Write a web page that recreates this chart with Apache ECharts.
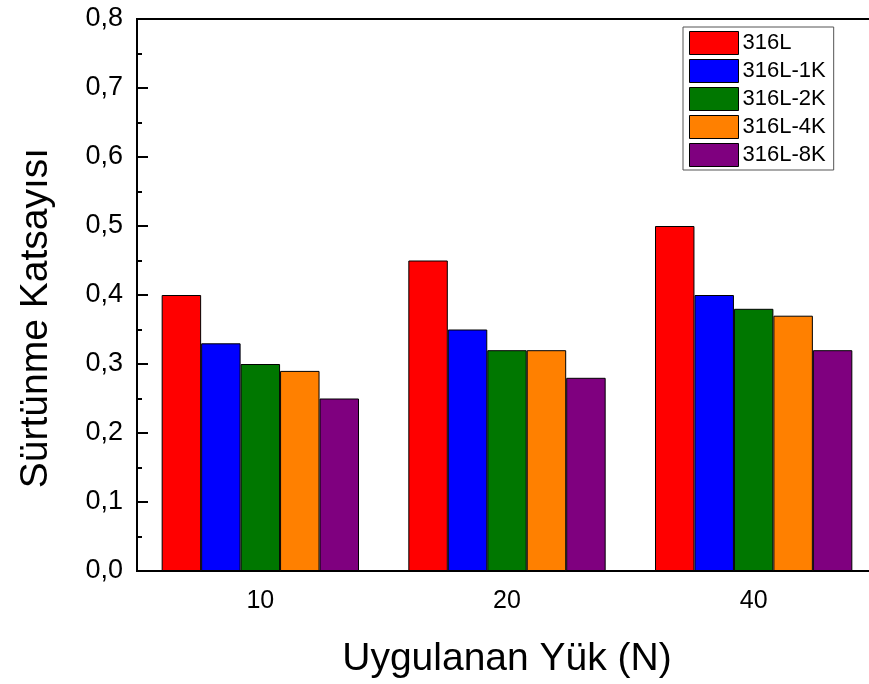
<!DOCTYPE html>
<html><head><meta charset="utf-8">
<script src="https://cdn.jsdelivr.net/npm/echarts@6/dist/echarts.min.js"></script>
<style>html,body{margin:0;padding:0;background:#fff}#c{width:869px;height:684px}</style>
</head><body><div id="c"></div>
<script>
const categories = ['10', '20', '40'];
const seriesNames = ['316L', '316L-1K', '316L-2K', '316L-4K', '316L-8K'];
const s316L = [0.40, 0.45, 0.50];
const s1K = [0.33, 0.35, 0.40];
const s2K = [0.30, 0.32, 0.38];
const s4K = [0.29, 0.32, 0.37];
const s8K = [0.25, 0.28, 0.32];
const colors = ['#ff0000', '#0000ff', '#007700', '#ff8000', '#7f007f'];
const values = [s316L, s1K, s2K, s4K, s8K];
const font = '"Liberation Sans", Arial, sans-serif';

const chart = echarts.init(document.getElementById('c'));
chart.setOption({
  animation: false,
  grid: { left: 137, top: 19, width: 740, height: 552, outerBoundsMode: 'none', containLabel: false,
    show: true, borderColor: '#000', borderWidth: 2, backgroundColor: 'transparent' },
  legend: {
    left: 683, top: 27, orient: 'vertical', icon: 'rect',
    itemWidth: 49, itemHeight: 23, itemGap: 4,
    padding: [4, 8, 3, 6],
    borderColor: '#555', borderWidth: 1,
    textStyle: { fontFamily: font, fontSize: 22, color: '#000', padding: [0, 0, 0, -1] },
    itemStyle: { borderColor: '#000', borderWidth: 1 },
    data: seriesNames
  },
  xAxis: {
    type: 'category', data: categories,
    name: 'Uygulanan Yük (N)', nameLocation: 'middle', nameGap: 69,
    nameTextStyle: { fontFamily: font, fontSize: 39, color: '#000' },
    axisLine: { lineStyle: { color: '#000', width: 2 } },
    axisTick: { alignWithLabel: true, length: 10, lineStyle: { color: '#000', width: 2 } },
    axisLabel: { fontFamily: font, fontSize: 25, color: '#000', margin: 18 }
  },
  yAxis: {
    type: 'value', min: 0, max: 0.8, interval: 0.1,
    name: 'Sürtünme Katsayısı', nameLocation: 'middle', nameGap: 81,
    nameTextStyle: { fontFamily: font, fontSize: 39, color: '#000', padding: [0, 46, 0, 0] },
    axisLine: { show: true, lineStyle: { color: '#000', width: 2 } },
    axisTick: { show: true, inside: true, length: 11, lineStyle: { color: '#000', width: 2 } },
    minorTick: { show: true, splitNumber: 2, length: 5, lineStyle: { color: '#000', width: 2 } },
    splitLine: { show: false },
    axisLabel: { fontFamily: font, fontSize: 27, color: '#000', margin: 14,
      formatter: v => v.toFixed(1).replace('.', ',') }
  },
  series: seriesNames.map((n, i) => ({
    name: n, type: 'bar', data: values[i],
    barGap: '0%', barCategoryGap: '20%',
    itemStyle: { color: colors[i], borderColor: '#000', borderWidth: 1 }
  }))
});
</script></body></html>
